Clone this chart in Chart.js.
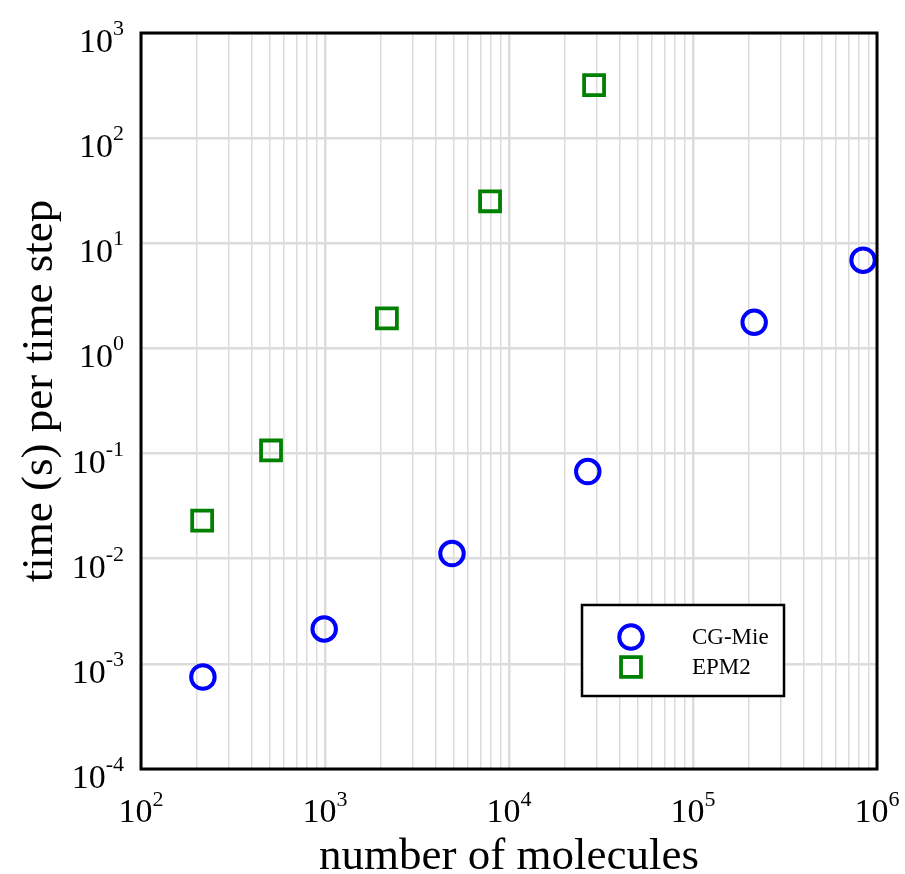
<!DOCTYPE html>
<html>
<head>
<meta charset="utf-8">
<script src="https://cdn.jsdelivr.net/npm/chart.js@4/dist/chart.umd.min.js"></script>
<style>
  html, body { margin: 0; padding: 0; background: #ffffff; }
  #wrap { width: 905px; height: 874px; }
</style>
</head>
<body>
<div id="wrap"><canvas id="c" width="905" height="874"></canvas></div>
<script>
// ---- data ----
const seriesNames = ['CG-Mie', 'EPM2'];
const cgMieX = [217, 990, 4900, 26800, 215000, 840000];
const cgMieY = [7.5e-4, 2.15e-3, 0.0112, 0.0674, 1.77, 6.9];
const epm2X = [215, 509, 2170, 7890, 29000];
const epm2Y = [0.023, 0.107, 1.93, 25.1, 319];
const xTickExponents = [2, 3, 4, 5, 6];
const yTickExponents = [-4, -3, -2, -1, 0, 1, 2, 3];
const xTitle = 'number of molecules';
const yTitle = 'time (s) per time step';

const SERIF = '"Liberation Serif", "DejaVu Serif", serif';

function toPoints(xs, ys) { return xs.map((x, i) => ({ x: x, y: ys[i] })); }

// minor+major ticks for x, only majors for y
function xTickValues() {
  const v = [];
  for (let e = xTickExponents[0]; e < xTickExponents[xTickExponents.length - 1]; e++) {
    for (let m = 1; m < 10; m++) v.push(m * Math.pow(10, e));
  }
  v.push(Math.pow(10, xTickExponents[xTickExponents.length - 1]));
  return v;
}
function isMajor(v) {
  const l = Math.log10(v);
  return Math.abs(l - Math.round(l)) < 1e-9;
}

const decorPlugin = {
  id: 'decor',
  afterDraw(chart) {
    const ctx = chart.ctx;
    const a = chart.chartArea;
    const xs = chart.scales.x, ys = chart.scales.y;
    ctx.save();
    // frame
    ctx.strokeStyle = '#000000';
    ctx.lineWidth = 3;
    ctx.strokeRect(a.left, a.top, a.right - a.left, a.bottom - a.top);

    ctx.fillStyle = '#000000';
    ctx.textBaseline = 'alphabetic';
    const baseFont = '34px ' + SERIF;
    const expFont = '22px ' + SERIF;

    // y tick labels
    yTickExponents.forEach(e => {
      const py = ys.getPixelForValue(Math.pow(10, e));
      const es = String(e);
      ctx.font = expFont;
      const we = ctx.measureText(es).width;
      ctx.textAlign = 'left';
      ctx.fillText(es, a.left - 17 - we, py + 2);
      ctx.font = baseFont;
      ctx.textAlign = 'right';
      ctx.fillText('10', a.left - 17 - we, py + 19);
    });
    // x tick labels
    xTickExponents.forEach(e => {
      const px = xs.getPixelForValue(Math.pow(10, e));
      const es = String(e);
      ctx.font = expFont;
      const we = ctx.measureText(es).width;
      ctx.font = baseFont;
      const wb = ctx.measureText('10').width;
      const start = px - (wb + we) / 2;
      ctx.textAlign = 'left';
      ctx.fillText('10', start, a.bottom + 53);
      ctx.font = expFont;
      ctx.fillText(es, start + wb, a.bottom + 37);
    });

    // axis titles
    ctx.font = '45px ' + SERIF;
    ctx.textAlign = 'center';
    ctx.fillText(xTitle, (a.left + a.right) / 2, a.bottom + 100);
    ctx.save();
    ctx.translate(52, (a.top + a.bottom) / 2 - 10);
    ctx.rotate(-Math.PI / 2);
    ctx.fillText(yTitle, 0, 0);
    ctx.restore();

    // legend box
    const lx = 582, ly = 605, lw = 202, lh = 91;
    ctx.fillStyle = '#ffffff';
    ctx.fillRect(lx, ly, lw, lh);
    ctx.strokeStyle = '#000000';
    ctx.lineWidth = 2.5;
    ctx.strokeRect(lx, ly, lw, lh);
    ctx.font = '23px ' + SERIF;
    ctx.textAlign = 'left';
    chart.data.datasets.forEach((ds, i) => {
      const cy = ly + 32 + i * 30;
      ctx.fillStyle = 'rgba(0,0,0,0)';
      ctx.strokeStyle = ds.pointBorderColor;
      ctx.lineWidth = ds.pointBorderWidth;
      Chart.helpers.drawPoint(ctx, {
        pointStyle: ds.pointStyle,
        radius: ds.pointRadius,
        borderWidth: ds.pointBorderWidth,
        rotation: 0
      }, lx + 49, cy);
      ctx.fillStyle = '#000000';
      ctx.fillText(ds.label, lx + 110, cy + 7);
    });
    ctx.restore();
  }
};

new Chart(document.getElementById('c'), {
  type: 'scatter',
  data: {
    datasets: [
      {
        label: seriesNames[0],
        data: toPoints(cgMieX, cgMieY),
        pointStyle: 'circle',
        pointRadius: 11.75,
        pointHoverRadius: 11.75,
        pointBorderWidth: 4,
        pointBorderColor: '#0000ff',
        pointBackgroundColor: 'rgba(0,0,0,0)',
        borderColor: '#0000ff',
        backgroundColor: 'rgba(0,0,0,0)',
        showLine: false,
        clip: false
      },
      {
        label: seriesNames[1],
        data: toPoints(epm2X, epm2Y),
        pointStyle: 'rect',
        pointRadius: 14.1,
        pointHoverRadius: 14.1,
        pointBorderWidth: 3.8,
        pointBorderColor: '#008000',
        pointBackgroundColor: 'rgba(0,0,0,0)',
        borderColor: '#008000',
        backgroundColor: 'rgba(0,0,0,0)',
        showLine: false,
        clip: false
      }
    ]
  },
  options: {
    responsive: false,
    animation: false,
    devicePixelRatio: 1,
    layout: { padding: { left: 0, top: 33, right: 28, bottom: 0 } },
    plugins: { legend: { display: false }, tooltip: { enabled: false } },
    events: [],
    scales: {
      x: {
        type: 'logarithmic',
        min: 100,
        max: 1e6,
        afterBuildTicks(scale) { scale.ticks = xTickValues().map(v => ({ value: v })); },
        afterFit(scale) { scale.height = 105; },
        ticks: { display: false, autoSkip: false },
        border: { display: false },
        grid: {
          drawTicks: false,
          color: '#dcdcdc',
          lineWidth: ctx => (ctx.tick && isMajor(ctx.tick.value)) ? 2.5 : 1.5
        },
        title: { display: false }
      },
      y: {
        type: 'logarithmic',
        min: 1e-4,
        max: 1e3,
        afterBuildTicks(scale) { scale.ticks = yTickExponents.map(e => ({ value: Math.pow(10, e) })); },
        afterFit(scale) { scale.width = 141; },
        ticks: { display: false, autoSkip: false },
        border: { display: false },
        grid: { drawTicks: false, color: '#dcdcdc', lineWidth: 2.5 },
        title: { display: false }
      }
    }
  },
  plugins: [decorPlugin]
});
</script>
</body>
</html>
